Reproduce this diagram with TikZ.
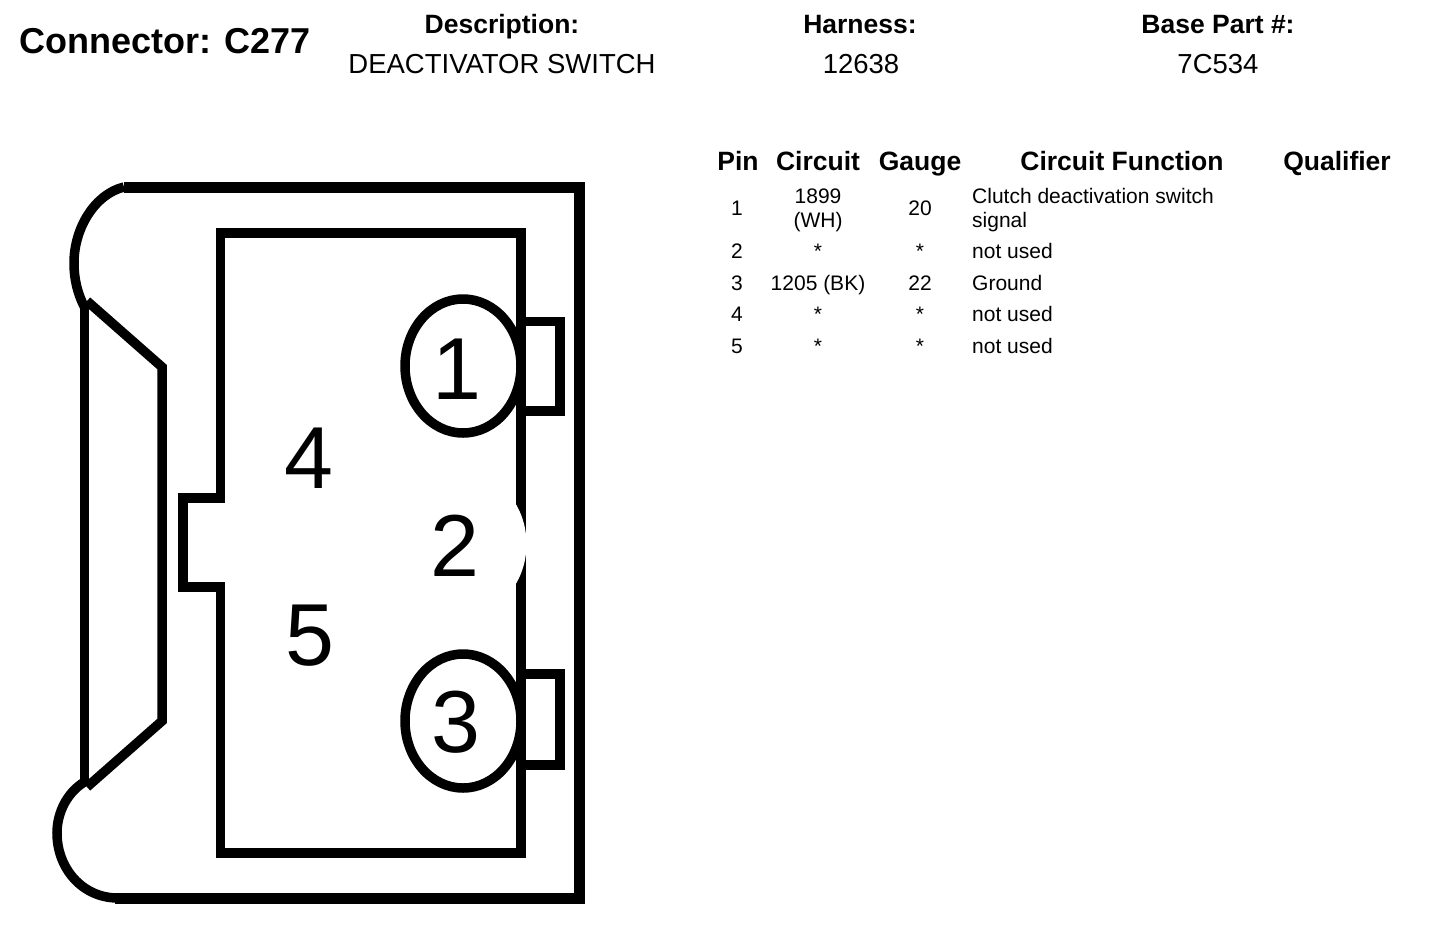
\documentclass[tikz,border=0pt]{standalone}
\usepackage{fontspec}
\setmainfont{Liberation Sans}
\tikzset{
  x=1pt,y=-1pt,
  title/.style={font=\fontsize{36}{36}\selectfont\bfseries,anchor=base west,inner sep=0pt},
  head/.style={font=\fontsize{26.5}{26.5}\selectfont\bfseries,anchor=base,inner sep=0pt},
  val/.style={font=\fontsize{27.5}{27.5}\selectfont,anchor=base,inner sep=0pt},
  cell/.style={font=\fontsize{21}{21}\selectfont,anchor=base,inner sep=0pt},
  fn/.style={cell,anchor=base west},
  pinno/.style={font=\fontsize{88}{88}\selectfont,anchor=base,inner sep=0pt},
  thick line/.style={draw=black,line width=11pt,line join=miter},
  body line/.style={draw=black,line width=9.5pt,line join=miter},
}
\begin{document}
\begin{tikzpicture}
\useasboundingbox (0,0) rectangle (1440,924);
% outer shell
\draw[thick line] (124,187) -- (579,187) -- (579,898) -- (115,898);
\draw[body line] (124,187) .. controls (95,194) and (74,228) .. (74,263) .. controls (74,280) and (78,295) .. (85,308);
\draw[body line] (88,780) .. controls (68,790) and (57,812) .. (57,833) .. controls (57,868) and (82,898) .. (118,898);
% latch
\draw[body line] (84.5,302) -- (84.5,785);
\draw[body line] (87,301) -- (162,367) -- (162,721) -- (87,787);
% inner housing
\draw[body line] (521,233) -- (220.5,233) -- (220.5,498) -- (183,498) -- (183,587) -- (220.5,587) -- (220.5,853) -- (521,853) -- cycle;
% tabs
\draw[body line] (521,321.5) -- (560,321.5) -- (560,411) -- (521,411);
\draw[body line] (521,674) -- (560,674) -- (560,765) -- (521,765);
% cavity around pin 2
\fill[white] (463,544) ellipse [x radius=63.5,y radius=72];
% cavities
\draw[body line,fill=white] (463,366) ellipse [x radius=58,y radius=67];
\draw[body line,fill=white] (463,721) ellipse [x radius=58,y radius=67];
% pin numbers
\node[pinno] (p1) at (457,399) {1};
\node[pinno] (p2) at (455,576) {2};
\node[pinno] (p3) at (456,752) {3};
\node[pinno] (p4) at (309,488) {4};
\node[pinno] (p5) at (310,665) {5};
% header
\node[title] (conn) at (19,53) {Connector: C277};
\node[head] (desc) at (502,33) {Description:};
\node[val] (descv) at (502,73) {DEACTIVATOR SWITCH};
\node[head] (harn) at (860,33) {Harness:};
\node[val] (harnv) at (861,73) {12638};
\node[head] (base) at (1218,33) {Base Part \#:};
\node[val] (basev) at (1218,73) {7C534};
% table head
\node[head] (hpin) at (738,170) {Pin};
\node[head] (hcir) at (818,170) {Circuit};
\node[head] (hgau) at (920,170) {Gauge};
\node[head] (hfun) at (1122,170) {Circuit Function};
\node[head] (hqua) at (1337,170) {Qualifier};
% rows
\node[cell] (a1) at (737,215) {1};
\node[cell] (b1a) at (818,203) {1899};
\node[cell] (b1b) at (818,227) {(WH)};
\node[cell] (c1) at (920,215) {20};
\node[fn] (d1a) at (972,203) {Clutch deactivation switch};
\node[fn] (d1b) at (972,227) {signal};
\node[cell] (a2) at (737,258) {2};
\node[cell] (b2) at (818,258) {*};
\node[cell] (c2) at (920,258) {*};
\node[fn] (d2) at (972,258) {not used};
\node[cell] (a3) at (737,290) {3};
\node[cell] (b3) at (818,290) {1205 (BK)};
\node[cell] (c3) at (920,290) {22};
\node[fn] (d3) at (972,290) {Ground};
\node[cell] (a4) at (737,321) {4};
\node[cell] (b4) at (818,321) {*};
\node[cell] (c4) at (920,321) {*};
\node[fn] (d4) at (972,321) {not used};
\node[cell] (a5) at (737,353) {5};
\node[cell] (b5) at (818,353) {*};
\node[cell] (c5) at (920,353) {*};
\node[fn] (d5) at (972,353) {not used};
\end{tikzpicture}
\end{document}
